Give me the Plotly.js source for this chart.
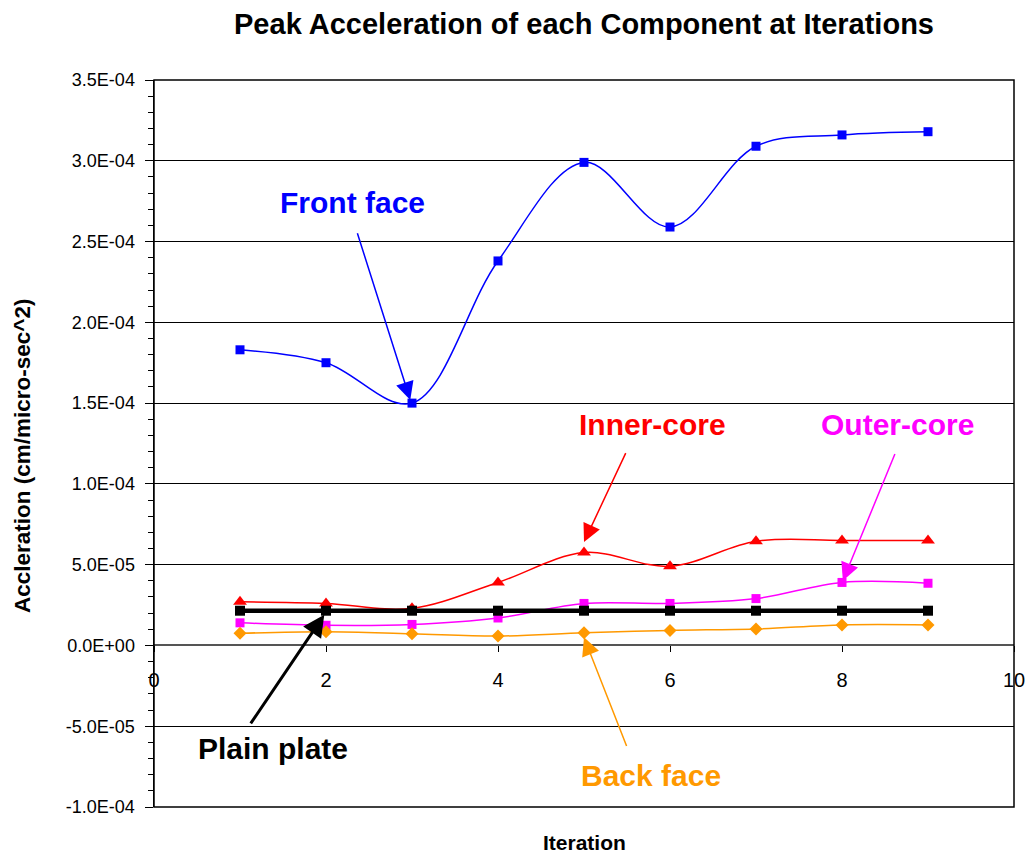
<!DOCTYPE html>
<html>
<head>
<meta charset="utf-8">
<script src="https://cdn.plot.ly/plotly-3.0.1.min.js"></script>
<style>html,body{margin:0;padding:0;background:#fff;}#chart{width:1033px;height:856px;}</style>
</head>
<body>
<div id="chart"></div>
<script>
// ---- data ----
var iterations = [1, 2, 3, 4, 5, 6, 7, 8, 9];
var frontFace  = [1.83e-4, 1.75e-4, 1.50e-4, 2.38e-4, 2.99e-4, 2.59e-4, 3.09e-4, 3.16e-4, 3.18e-4];
var innerCore  = [2.7e-5, 2.6e-5, 2.3e-5, 3.9e-5, 5.75e-5, 4.9e-5, 6.45e-5, 6.5e-5, 6.5e-5];
var outerCore  = [1.4e-5, 1.25e-5, 1.3e-5, 1.7e-5, 2.6e-5, 2.6e-5, 2.9e-5, 3.9e-5, 3.85e-5];
var backFace   = [7.5e-6, 8.5e-6, 7.2e-6, 5.8e-6, 7.8e-6, 9.3e-6, 1.02e-5, 1.27e-5, 1.27e-5];
var plainPlate = [2.15e-5, 2.15e-5, 2.15e-5, 2.15e-5, 2.15e-5, 2.15e-5, 2.15e-5, 2.15e-5, 2.15e-5];

var yTickVals  = [-1.0e-4, -5.0e-5, 0, 5.0e-5, 1.0e-4, 1.5e-4, 2.0e-4, 2.5e-4, 3.0e-4, 3.5e-4];
var yTickText  = ['-1.0E-04', '-5.0E-05', '0.0E+00', '5.0E-05', '1.0E-04', '1.5E-04', '2.0E-04', '2.5E-04', '3.0E-04', '3.5E-04'];
var xTickVals  = [0, 2, 4, 6, 8, 10];

var labelNames = ['Front face', 'Inner-core', 'Outer-core', 'Plain plate', 'Back face'];
var labelColors = ['#0000FF', '#FF0000', '#FF00FF', '#000000', '#FF9900'];
// label text positions (data coords)
var labelX = [2.31, 5.80, 8.65, 1.38, 5.78];
var labelY = [2.74e-4, 1.37e-4, 1.37e-4, -0.64e-4, -0.805e-4];
// arrow tail / head (data coords)
var arrowTailX = [2.33, 5.52, 8.65, 1.09, 5.53];
var arrowTailY = [2.61e-4, 1.23e-4, 1.23e-4, -0.51e-4, -0.67e-4];
var arrowHeadX = [2.98, 5.00, 8.01, 1.98, 5.00];
var arrowHeadY = [1.52e-4, 0.64e-4, 0.40e-4, 0.19e-4, 0.05e-4];
var arrowWidths = [1.5, 1.5, 1.5, 3, 1.5];

var FONT = 'Arial, "Liberation Sans", sans-serif';

var traces = [
  {x: iterations, y: frontFace, mode: 'lines+markers', line: {color: '#0000FF', width: 1.5, shape: 'spline', smoothing: 1},
   marker: {symbol: 'square', size: 9, color: '#0000FF'}},
  {x: iterations, y: innerCore, mode: 'lines+markers', line: {color: '#FF0000', width: 1.5, shape: 'spline', smoothing: 1},
   marker: {symbol: 'triangle-up', size: 12, color: '#FF0000'}},
  {x: iterations, y: outerCore, mode: 'lines+markers', line: {color: '#FF00FF', width: 1.5, shape: 'spline', smoothing: 1},
   marker: {symbol: 'square', size: 9, color: '#FF00FF'}},
  {x: iterations, y: backFace, mode: 'lines+markers', line: {color: '#FF9900', width: 1.5, shape: 'spline', smoothing: 1},
   marker: {symbol: 'diamond', size: 10, color: '#FF9900'}},
  {x: iterations, y: plainPlate, mode: 'lines+markers', line: {color: '#000000', width: 4.5},
   marker: {symbol: 'square', size: 10, color: '#000000'}}
];

var annotations = [];
for (var i = 0; i < labelNames.length; i++) {
  annotations.push({
    x: arrowHeadX[i], y: arrowHeadY[i], xref: 'x', yref: 'y',
    ax: arrowTailX[i], ay: arrowTailY[i], axref: 'x', ayref: 'y',
    showarrow: true, arrowhead: 2, arrowsize: 3.6 / arrowWidths[i] * (i === 3 ? 1.2 : 1),
    arrowwidth: arrowWidths[i], arrowcolor: labelColors[i], standoff: 0, startstandoff: 0
  });
  annotations.push({
    x: labelX[i], y: labelY[i], xref: 'x', yref: 'y', showarrow: false,
    text: labelNames[i], xanchor: 'center', yanchor: 'middle',
    font: {family: FONT, size: 30, color: labelColors[i], weight: 'bold'}
  });
}
annotations.push({
  x: 0.5, y: -0.0495, xref: 'paper', yref: 'paper', showarrow: false,
  text: '<b>Iteration</b>', xanchor: 'center', yanchor: 'middle',
  font: {family: FONT, size: 21, color: '#000'}
});
annotations.push({
  x: -0.1535, y: 0.484, xref: 'paper', yref: 'paper', showarrow: false, textangle: -90,
  text: '<b>Accleration (cm/micro-sec^2)</b>', xanchor: 'center', yanchor: 'middle',
  font: {family: FONT, size: 22.5, color: '#000'}
});

var layout = {
  width: 1033, height: 856,
  margin: {l: 154, r: 19, t: 80, b: 49},
  paper_bgcolor: '#fff', plot_bgcolor: '#fff',
  showlegend: false,
  title: {text: '<b>Peak Acceleration of each Component at Iterations</b>', x: 0.5, xref: 'paper', xanchor: 'center',
          y: 1 - 24 / 856, yref: 'container', yanchor: 'middle',
          font: {family: FONT, size: 29, color: '#000'}},
  xaxis: {
    range: [0, 10], tickmode: 'array', tickvals: xTickVals, ticktext: xTickVals.map(String),
    anchor: 'free', position: 0.2222, showline: true, linecolor: '#555', linewidth: 2,
    ticks: 'outside', ticklen: 6, tickcolor: '#000', tickwidth: 1, ticklabelstandoff: 11,
    showgrid: false, zeroline: false, tickfont: {family: FONT, size: 20, color: '#000'}
  },
  yaxis: {
    range: [-1.0e-4, 3.5e-4], tickmode: 'array', tickvals: yTickVals, ticktext: yTickText,
    showline: true, linecolor: '#000', linewidth: 1.5,
    ticks: 'outside', ticklen: 8, tickcolor: '#000', tickwidth: 1, ticklabelstandoff: 6,
    minor: {tickmode: 'linear', tick0: 0, dtick: 1e-5, ticks: 'outside', ticklen: 5, tickcolor: '#000', tickwidth: 1, showgrid: false},
    showgrid: true, gridcolor: '#000', gridwidth: 1, zeroline: false,
    tickfont: {family: FONT, size: 18, color: '#000'}
  },
  shapes: [{type: 'rect', xref: 'paper', yref: 'paper', x0: 0, x1: 1, y0: 0, y1: 1, line: {color: '#000', width: 1.5}, layer: 'above'}],
  annotations: annotations
};

Plotly.newPlot('chart', traces, layout, {displayModeBar: false, staticPlot: true});
</script>
</body>
</html>
